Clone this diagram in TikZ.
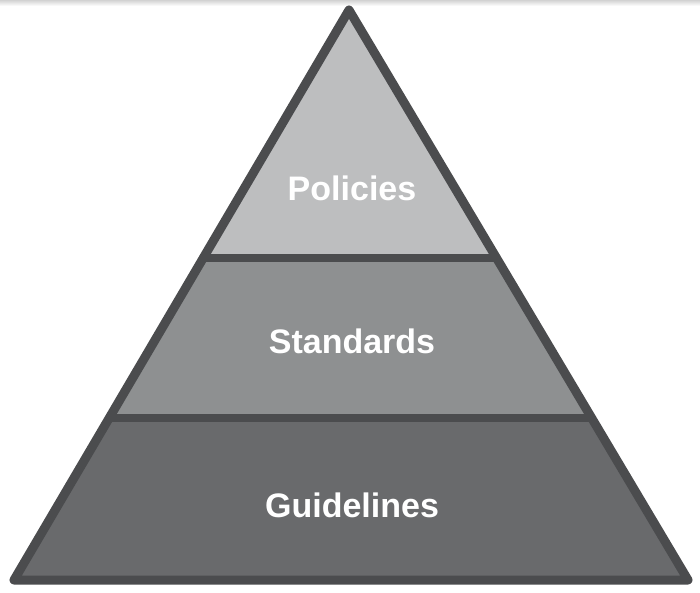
\documentclass[tikz,border=0pt]{standalone}
\usepackage{fontspec}
\setmainfont{Liberation Sans}
\usetikzlibrary{calc}
\begin{document}
\begin{tikzpicture}[x=1pt,y=-1pt,
  edge/.style={draw=strokegray,line width=9pt,line join=round},
  divider/.style={draw=strokegray,line width=8pt},
  label/.style={text=white,font=\bfseries\fontsize{34}{38}\selectfont,inner sep=0pt}]
\definecolor{strokegray}{HTML}{4B4C4E}
\definecolor{topgray}{HTML}{BDBEBF}
\definecolor{midgray}{HTML}{8E9091}
\definecolor{botgray}{HTML}{696A6C}
\useasboundingbox (0,0) rectangle (700,593);
\fill[white] (0,0) rectangle (700,593);
\shade[top color=gray!35,bottom color=white] (0,0) rectangle (700,6);
\coordinate (A) at (349,10);
\coordinate (L) at (14,580);
\coordinate (R) at (688,580);
\coordinate (L1) at ($(A)!0.435!(L)$);
\coordinate (R1) at ($(A)!0.435!(R)$);
\coordinate (L2) at ($(A)!0.716!(L)$);
\coordinate (R2) at ($(A)!0.716!(R)$);
\fill[topgray] (A) -- (L1) -- (R1) -- cycle;
\fill[midgray] (L1) -- (L2) -- (R2) -- (R1) -- cycle;
\fill[botgray] (L2) -- (L) -- (R) -- (R2) -- cycle;
\draw[divider] (L1) -- (R1);
\draw[divider] (L2) -- (R2);
\draw[edge] (A) -- (L) -- (R) -- cycle;
\node[label] (p) at (352,188) {Policies};
\node[label] (s) at (352,341) {Standards};
\node[label] (g) at (352,505) {Guidelines};
\end{tikzpicture}
\end{document}
